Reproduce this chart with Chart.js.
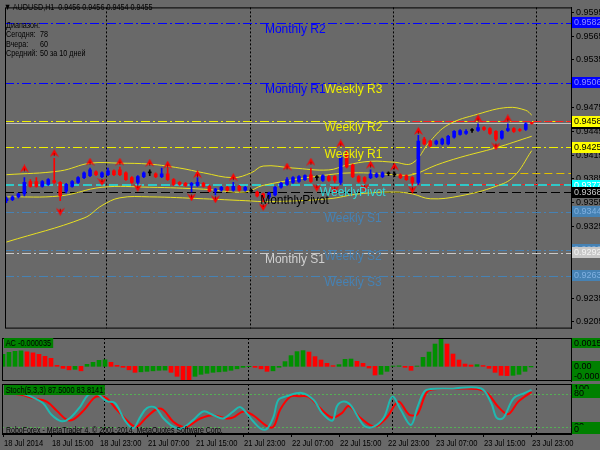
<!DOCTYPE html>
<html>
<head>
<meta charset="utf-8">
<script src="https://cdn.jsdelivr.net/npm/chart.js@4.4.0/dist/chart.umd.min.js"></script>
<style>
  body { margin: 0; width: 600px; height: 450px; overflow: hidden; position: relative; background: #696969;
         font-family: 'Liberation Sans', Arial, sans-serif; }
  canvas { position: absolute; left: 0; }
  .txt { position: absolute; color: #000; white-space: pre; line-height: 1; font-size: 9px;
         transform: scaleX(0.8); transform-origin: 0 0; }
  .tag { position: absolute; background: #008000; color: #000; white-space: pre; line-height: 10px; height: 10px;
         padding: 0 2px; font-size: 9px; transform: scaleX(0.82); transform-origin: 0 0; }
</style>
</head>
<body>
<canvas id="priceChart" width="600" height="336" style="top:0"></canvas>
<canvas id="acChart" width="600" height="46" style="top:336px"></canvas>
<canvas id="stochChart" width="600" height="68" style="top:382px"></canvas>

<div class="txt" style="left:4px;top:3px">▼ AUDUSD,H1  0.9456 0.9456 0.9454 0.9455</div>
<div class="txt" style="left:6px;top:21px">Диапазон:</div>
<div class="txt" style="left:6px;top:30px">Сегодня:</div><div class="txt" style="left:40px;top:30px">78</div>
<div class="txt" style="left:6px;top:40px">Вчера:</div><div class="txt" style="left:40px;top:40px">60</div>
<div class="txt" style="left:6px;top:49px">Средний:</div><div class="txt" style="left:40px;top:49px">50 за 10 дней</div>
<div class="tag" style="left:4px;top:338px">AC -0.000035</div>
<div class="tag" style="left:4px;top:385px">Stoch(5,3,3) 87.5000 83.8141</div>
<div class="txt" style="left:6px;top:426px;font-size:8.5px;transform:scaleX(0.82)">RoboForex - MetaTrader 4, © 2001-2014, MetaQuotes Software Corp.</div>

<script>
/* ===== data ===== */
// H1 bars, 18 Jul 07:00 .. 23 Jul 23:00 (index = bar number)
const opens  = [0.93577,0.93589,0.93625,0.93662,0.93819,0.93819,0.93758,0.93783,0.93831,0.93807,
                0.93698,0.93758,0.93807,0.93867,0.93892,0.93940,0.93880,0.93904,0.93952,0.93964,
                0.93928,0.93867,0.93807,0.93880,0.93928,0.93916,0.93880,0.93916,0.93843,0.93807,
                0.93795,0.93770,0.93770,0.93795,0.93758,0.93698,0.93710,0.93746,0.93710,0.93758,
                0.93710,0.93698,0.93686,0.93662,0.93625,0.93650,0.93746,0.93783,0.93807,0.93819,
                0.93843,0.93904,0.93867,0.93831,0.93880,0.93880,0.93807,0.94170,0.94025,0.93880,
                0.93867,0.93867,0.93880,0.93880,0.93916,0.93904,0.93904,0.93892,0.93867,0.93807,
                0.94352,0.94328,0.94292,0.94292,0.94292,0.94376,0.94412,0.94424,0.94461,0.94461,
                0.94497,0.94485,0.94449,0.94364,0.94461,0.94485,0.94473,0.94473,0.9456];
const highs  = [0.93625,0.93637,0.93674,0.93867,0.93843,0.93867,0.93831,0.93855,0.94110,0.93819,
                0.93795,0.93831,0.93880,0.93940,0.93988,0.93952,0.93940,0.93988,0.93964,0.94001,
                0.93940,0.93880,0.93892,0.93940,0.93964,0.93928,0.93988,0.93988,0.93855,0.93819,
                0.93807,0.93807,0.93867,0.93807,0.93770,0.93734,0.93758,0.93758,0.93807,0.93770,
                0.93758,0.93722,0.93698,0.93674,0.93686,0.93758,0.93807,0.93867,0.93880,0.93892,
                0.93904,0.93988,0.93892,0.93904,0.93892,0.93892,0.94183,0.94207,0.94037,0.93892,
                0.93880,0.93964,0.93928,0.93940,0.93940,0.93940,0.93916,0.93904,0.93880,0.94401,
                0.94376,0.94340,0.94340,0.94364,0.94401,0.94461,0.94473,0.94473,0.94485,0.94546,
                0.94509,0.94497,0.94461,0.94461,0.94546,0.94497,0.94485,0.94558,0.9456];
const lows   = [0.93553,0.93577,0.93613,0.93637,0.93746,0.93746,0.93746,0.93770,0.93795,0.93577,
                0.93674,0.93746,0.93795,0.93855,0.93880,0.93892,0.93867,0.93892,0.93892,0.93892,
                0.93831,0.93795,0.93783,0.93867,0.93892,0.93867,0.93867,0.93831,0.93770,0.93770,
                0.93758,0.93686,0.93758,0.93746,0.93686,0.93650,0.93698,0.93698,0.93698,0.93698,
                0.93698,0.93674,0.93625,0.93565,0.93601,0.93637,0.93734,0.93770,0.93795,0.93807,
                0.93831,0.93807,0.93831,0.93819,0.93819,0.93807,0.93783,0.93988,0.93867,0.93807,
                0.93795,0.93855,0.93867,0.93867,0.93892,0.93880,0.93855,0.93831,0.93770,0.93783,
                0.94279,0.94255,0.94279,0.94279,0.94279,0.94364,0.94401,0.94412,0.94437,0.94449,
                0.94461,0.94412,0.94328,0.94352,0.94449,0.94437,0.94449,0.94461,0.9454];
const closes = [0.93601,0.93625,0.93662,0.93807,0.93758,0.93758,0.93819,0.93843,0.93807,0.93637,
                0.93783,0.93819,0.93867,0.93928,0.93964,0.93904,0.93928,0.93952,0.93904,0.93904,
                0.93843,0.93807,0.93880,0.93928,0.93928,0.93880,0.93916,0.93843,0.93783,0.93783,
                0.93770,0.93795,0.93807,0.93758,0.93698,0.93722,0.93746,0.93710,0.93758,0.93710,
                0.93746,0.93698,0.93637,0.93613,0.93674,0.93746,0.93795,0.93843,0.93867,0.93880,
                0.93892,0.93819,0.93867,0.93892,0.93831,0.93831,0.94122,0.94001,0.93880,0.93819,
                0.93819,0.93916,0.93916,0.93928,0.93916,0.93904,0.93867,0.93843,0.93807,0.94328,
                0.94292,0.94267,0.94328,0.94352,0.94388,0.94449,0.94461,0.94449,0.94461,0.94497,
                0.94473,0.94424,0.94352,0.94449,0.94485,0.94449,0.94461,0.94546,0.9455];

// bollinger-style envelope, points (bar, price)
const upperBandBars = [0, 9, 14, 19, 24, 29, 33, 38, 41, 43, 48, 54, 57, 61, 65, 68, 71, 74, 79, 84, 87, 88];
const upperBandVals = [0.93904,0.93952,0.94049,0.94049,0.94037,0.93988,0.93928,0.93867,0.93928,0.94013,0.93988,
                       0.93964,0.94025,0.94073,0.94061,0.94049,0.94328,0.94533,0.94667,0.94751,0.94715,0.94655];
const midBandBars = [0, 9, 16, 24, 33, 40, 43, 54, 59, 65, 68, 72, 76, 82, 88];
const midBandVals = [0.93625,0.93637,0.93746,0.93746,0.93722,0.93686,0.93770,0.93904,0.93928,0.93904,0.93904,
                     0.94025,0.94122,0.94243,0.94388];
const lowerBandBars = [0, 13, 16, 19, 24, 33, 40, 44, 54, 59, 65, 68, 71, 76, 82, 85, 88];
const lowerBandVals = [0.93056,0.93359,0.93516,0.93613,0.93625,0.93601,0.93577,0.93565,0.93601,0.93662,0.93686,
                       0.93662,0.93601,0.93637,0.93758,0.93880,0.94207];

// fractals
const fractalUpBars = [3, 8, 14, 19, 24, 27, 32, 38, 47, 51, 56, 61, 65, 69, 79, 84];
const fractalUpVals = [0.93976,0.94170,0.94061,0.94061,0.94049,0.94025,0.93904,0.93867,0.94001,0.94061,0.94291,
                       0.94025,0.94001,0.94449,0.94606,0.94606];
const fractalDownBars = [9, 16, 22, 31, 35, 43, 52, 55, 60, 68, 82];
const fractalDownVals = [0.93444,0.93819,0.93746,0.93625,0.93601,0.93504,0.93746,0.93722,0.93746,0.93722,0.94267];

// pivot levels and day lines
const levelKinds  = ['monthlyR','monthlyR','weeklyR','weeklyR','todayHL','dayMid','todayHL','weeklyPivot','monthlyPivot','weeklyS','weeklyS','monthlyS','weeklyS','bid'];
const levelValues = [0.9582, 0.9506, 0.9458, 0.9425, 0.9458, 0.9392, 0.9379, 0.9377, 0.9368, 0.9344, 0.9296, 0.9292, 0.9263, 0.9455];
const levelFromBar = [null, null, null, null, 68, 68, 68, null, null, null, null, null, null, null];

const pivotLabels     = ['Monthly R2','Monthly R1','Weekly R3','Weekly R2','Weekly R1','WeeklyPivot','MonthlyPivot','Weekly S1','Monthly S1','Weekly S2','Weekly S3'];
const pivotLabelKinds = ['monthlyR','monthlyR','weeklyR','weeklyR','weeklyR','weeklyPivot','monthlyPivot','weeklyS','monthlyS','weeklyS','weeklyS'];
const pivotLabelVals  = [0.9582, 0.9506, 0.9506, 0.9458, 0.9425, 0.9377, 0.9367, 0.9344, 0.9292, 0.9296, 0.9263];
const pivotLabelBars  = [43.3, 43.3, 53.3, 53.3, 53.3, 52.5, 42.5, 53.3, 43.3, 53.3, 53.3];

// price axis
const priceTicks = [0.9595, 0.9565, 0.9535, 0.9505, 0.9475, 0.9445, 0.9415, 0.9385, 0.9355, 0.9325, 0.9295, 0.9265, 0.9235, 0.9205];
const axisTagKinds = ['monthlyR','monthlyR','bid','weeklyR','weeklyR','weeklyPivot','monthlyPivot','weeklyS','weeklyS','monthlyS','weeklyS'];
const axisTagVals  = [0.9582, 0.9506, 0.9455, 0.9458, 0.9425, 0.9377, 0.9368, 0.9344, 0.9296, 0.9292, 0.9263];

// time axis
const xTickBars   = [0, 8, 16, 24, 32, 40, 48, 56, 64, 72, 80, 88];
const xTickLabels = ['18 Jul 2014','18 Jul 15:00','18 Jul 23:00','21 Jul 07:00','21 Jul 15:00','21 Jul 23:00',
                     '22 Jul 07:00','22 Jul 15:00','22 Jul 23:00','23 Jul 07:00','23 Jul 15:00','23 Jul 23:00'];
const daySeparators = [17, 41, 65, 89];

// Accelerator oscillator
const acValues = [0.000646,0.000753,0.000807,0.000834,0.000780,0.000726,0.000646,0.000538,0.000430,0.000054,
                  -0.000108,-0.000188,-0.000161,-0.000242,0.000108,0.000215,0.000323,0.000350,0.000215,0.000054,
                  -0.000054,-0.000188,-0.000323,-0.000296,-0.000269,-0.000242,-0.000215,-0.000204,-0.000323,-0.000538,
                  -0.000753,-0.000780,-0.000538,-0.000430,-0.000377,-0.000323,-0.000296,-0.000269,-0.000215,-0.000135,
                  -0.000054,-0.000016,-0.000054,-0.000135,-0.000269,-0.000242,-0.000054,0.000253,0.000576,0.000791,
                  0.000845,0.000769,0.000522,0.000339,0.000161,0.000038,0.000091,0.000377,0.000393,0.000269,
                  0.000161,-0.000091,-0.000468,-0.000430,-0.000269,0.000016,0.000027,-0.000054,-0.000215,0.000016,
                  0.000484,0.000769,0.001200,0.001525,0.001200,0.000662,0.000339,0.000124,0.000070,0.000091,
                  0.000043,-0.000108,-0.000323,-0.000484,-0.000500,-0.000484,-0.000430,-0.000269,-0.000035];
const acTagVals  = [0.001525, 0, -0.00079];
const acTagTexts = ['0.001525', '0.00', '-0.00079'];

// Stochastic (5,3,3), points
const stochMainBars = [0, 2.8, 4.4, 6.6, 8.0, 9.7, 11.1, 12.8, 14.1, 15.5, 17.2, 18.6, 20.2, 21.6, 22.8, 23.9, 25.3, 26.6,
                       28.3, 29.7, 31.6, 33.3, 35, 36.6, 38.3, 39.4, 40.5, 41.6, 42.8, 43.9, 45, 45.8, 47.2, 49.7, 51.7,
                       53.1, 54.8, 55.6, 56.7, 57.8, 59.4, 60.3, 61.7, 63.4, 64.8, 66.2, 67.9, 69, 70.1, 71.2, 74.6,
                       79.6, 81.3, 82.2, 83.3, 85, 86.9, 88];
const stochMainVals = [81, 81, 76, 63, 42, 30, 36, 57, 78, 81, 67, 63, 32, 17, 38, 54, 55, 36,
                       20, 17, 32, 48, 41, 35, 48, 56, 45, 30, 17, 16, 38, 69, 76, 82, 69,
                       45, 31, 58, 66, 60, 32, 20, 20, 37, 75, 51, 23, 56, 84, 89, 90,
                       90, 63, 36, 36, 72, 82, 87.5];
const stochSignalBars = [0, 2.8, 5, 7.2, 8.9, 10.5, 11.6, 13.3, 15, 15.8, 17.2, 18.9, 21.1, 22.2, 23.9, 25.5, 26.6, 28.3,
                         30, 31.1, 32.8, 35, 37.2, 38.3, 40, 41.6, 43.9, 45, 46.1, 47.8, 49.4, 50.8, 52.5, 54.7, 56.4,
                         57.5, 59.4, 61.1, 62.2, 63.9, 65.8, 67.2, 67.8, 69, 70.6, 72.3, 75.6, 79, 80.7, 82.4, 84.1,
                         85.8, 88];
const stochSignalVals = [81, 79, 72, 66, 49, 33, 33, 49, 72, 76, 72, 51, 26, 20, 38, 52, 51, 29,
                         19, 23, 35, 41, 35, 37, 48, 41, 21, 20, 51, 75, 76, 75, 57, 37, 45,
                         58, 37, 23, 21, 37, 66, 47, 41, 43, 84, 89, 90, 89, 81, 57, 43,
                         66, 83.8];
const stochLevels = [80, 20];
const stochTagVals = [100, 80, 20, 0];

/* ===== styles ===== */
const X_MIN = -0.25, X_MAX = 94.58;
const FONT = "'Liberation Sans', Arial, sans-serif";
const levelStyle = {
  monthlyR:     { color: '#0000ff', dash: [9, 3, 2, 3], width: 1 },
  weeklyR:      { color: '#f0f000', dash: [9, 3, 2, 3], width: 1 },
  todayHL:      { color: '#ff2020', dash: [8, 3], width: 1 },
  dayMid:       { color: '#e0c000', dash: [8, 4], width: 1 },
  weeklyPivot:  { color: '#30c8c8', dash: [9, 4], width: 2 },
  monthlyPivot: { color: '#000000', dash: [9, 4], width: 1 },
  weeklyS:      { color: '#4682b4', dash: [9, 3, 2, 3], width: 1 },
  monthlyS:     { color: '#c8c8c8', dash: [9, 3, 2, 3], width: 1 },
  bid:          { color: '#c0c0c0', dash: [], width: 1 }
};
const labelColor = { monthlyR: '#0000ff', weeklyR: '#f0f000', weeklyPivot: '#30d8d8', monthlyPivot: '#000000',
                     weeklyS: '#4682b4', monthlyS: '#d0d0d0' };
const tagStyle = {
  monthlyR: { bg: '#0000ff', fg: '#8c8cff' }, weeklyR: { bg: '#ffff00', fg: '#000000' },
  bid: { bg: '#000000', fg: '#c0c0c0' }, weeklyPivot: { bg: '#00ffff', fg: '#ffffff' },
  monthlyPivot: { bg: '#000000', fg: '#c8c8c8' }, weeklyS: { bg: '#4682b4', fg: '#80b0e0' },
  monthlyS: { bg: '#c8c8c8', fg: '#f4f4f4' }, green: { bg: '#008000', fg: '#000000' }
};

/* ===== helpers ===== */
function pts(xs, ys) { return xs.map((x, k) => ({ x: x, y: ys[k] })); }

function arrowImg(up) {
  const c = document.createElement('canvas');
  c.width = 9; c.height = 9;
  const g = c.getContext('2d');
  g.fillStyle = '#ff0000';
  g.beginPath();
  if (up) { g.moveTo(4.5, 0); g.lineTo(9, 8); g.lineTo(4.5, 5); g.lineTo(0, 8); }
  else    { g.moveTo(4.5, 9); g.lineTo(9, 1); g.lineTo(4.5, 4); g.lineTo(0, 1); }
  g.closePath(); g.fill();
  g.fillStyle = '#a00000';
  g.fillRect(4, up ? 4 : 2, 1, 3);
  return c;
}

function drawSeparators(chart) {
  const { ctx, chartArea: a, scales: { x } } = chart;
  ctx.save();
  ctx.strokeStyle = '#000'; ctx.lineWidth = 1; ctx.setLineDash([2, 2]);
  daySeparators.forEach(b => {
    const px = Math.floor(x.getPixelForValue(b)) - 1 + 0.5;
    if (px > a.right) return;
    ctx.beginPath(); ctx.moveTo(px, a.top); ctx.lineTo(px, a.bottom); ctx.stroke();
  });
  ctx.restore();
}

function drawTag(ctx, a, py, text, st, h) {
  let top = Math.round(py - h / 2);
  if (top < a.top) top = a.top;
  if (top + h > a.bottom) top = a.bottom - h;
  ctx.fillStyle = st.bg;
  ctx.fillRect(a.right + 1, top, 29, h);
  ctx.fillStyle = st.fg;
  ctx.font = '9px ' + FONT;
  ctx.textBaseline = 'middle'; ctx.textAlign = 'left';
  ctx.fillText(text, a.right + 3, top + h / 2 + 0.5);
}

function drawFrame(chart) {
  const { ctx, chartArea: a } = chart;
  ctx.save();
  ctx.strokeStyle = '#000'; ctx.lineWidth = 1;
  ctx.strokeRect(a.left + 0.5, a.top + 0.5, a.right - a.left, a.bottom - a.top - 1);
  ctx.restore();
}

const yAxisBase = {
  position: 'right',
  afterFit: s => { s.width = 29; },
  grid: { drawOnChartArea: false, drawTicks: true, tickLength: 3, color: '#000' },
  border: { color: '#000' }
};

/* ===== price panel ===== */
const pricePlugin = {
  id: 'pricePlugin',
  beforeDatasetsDraw(chart) {
    const { ctx, chartArea: a, scales: { x, y } } = chart;
    drawSeparators(chart);
    ctx.save();
    ctx.beginPath(); ctx.rect(a.left, a.top, a.right - a.left, a.bottom - a.top); ctx.clip();
    levelKinds.forEach((kind, k) => {
      const st = levelStyle[kind];
      const py = Math.round(y.getPixelForValue(levelValues[k])) + (st.width === 2 ? 0 : 0.5);
      const x0 = levelFromBar[k] === null ? a.left : x.getPixelForValue(levelFromBar[k]);
      ctx.strokeStyle = st.color; ctx.lineWidth = st.width; ctx.setLineDash(st.dash);
      ctx.beginPath(); ctx.moveTo(x0, py); ctx.lineTo(a.right, py); ctx.stroke();
    });
    ctx.restore();
  },
  afterDatasetsDraw(chart) {
    const { ctx, scales: { x, y } } = chart;
    ctx.save();
    ctx.font = '12px ' + FONT;
    ctx.textBaseline = 'top'; ctx.textAlign = 'left';
    pivotLabels.forEach((t, k) => {
      ctx.fillStyle = labelColor[pivotLabelKinds[k]];
      ctx.fillText(t, x.getPixelForValue(pivotLabelBars[k]), y.getPixelForValue(pivotLabelVals[k]) + 1);
    });
    ctx.restore();
  },
  afterDraw(chart) {
    const { ctx, chartArea: a, scales: { y } } = chart;
    drawFrame(chart);
    ctx.save();
    axisTagKinds.forEach((kind, k) => {
      drawTag(ctx, a, y.getPixelForValue(axisTagVals[k]), axisTagVals[k].toFixed(4), tagStyle[kind], 11);
    });
    ctx.restore();
  }
};

const candleColors = opens.map((o, i) => closes[i] > o ? '#0000ff' : (closes[i] < o ? '#ff0000' : '#000000'));
const bars = opens.map((o, i) => i);

new Chart(document.getElementById('priceChart'), {
  type: 'bar',
  data: {
    datasets: [
      { type: 'line', data: pts(upperBandBars, upperBandVals), borderColor: '#e8e020', borderWidth: 1, pointRadius: 0, tension: 0.4, order: 5 },
      { type: 'line', data: pts(midBandBars, midBandVals), borderColor: '#e8e020', borderWidth: 1, pointRadius: 0, tension: 0.4, order: 5 },
      { type: 'line', data: pts(lowerBandBars, lowerBandVals), borderColor: '#e8e020', borderWidth: 1, pointRadius: 0, tension: 0.4, order: 5 },
      { data: bars.map(i => ({ x: i, y: [lows[i], highs[i]] })), backgroundColor: candleColors, barThickness: 1, grouped: false, order: 3 },
      { data: bars.map(i => ({ x: i, y: [opens[i], closes[i]] })), backgroundColor: candleColors, barThickness: 3, minBarLength: 1, grouped: false, order: 2 },
      { type: 'line', data: pts(fractalUpBars, fractalUpVals), showLine: false, pointStyle: arrowImg(true), order: 1 },
      { type: 'line', data: pts(fractalDownBars, fractalDownVals), showLine: false, pointStyle: arrowImg(false), order: 1 }
    ]
  },
  options: {
    responsive: false, animation: false,
    layout: { padding: { left: 2, top: 1, right: 0, bottom: 1 } },
    plugins: { legend: { display: false }, tooltip: { enabled: false } },
    scales: {
      x: { type: 'linear', min: X_MIN, max: X_MAX, offset: false, display: false },
      y: Object.assign({}, yAxisBase, {
        type: 'linear', min: 0.91966, max: 0.96011,
        afterBuildTicks: s => { s.ticks = priceTicks.map(v => ({ value: v })); },
        ticks: { color: '#000', padding: 2, font: { family: FONT, size: 9 }, callback: v => Number(v).toFixed(4) }
      })
    }
  },
  plugins: [pricePlugin]
});

/* ===== AC panel ===== */
const acColors = acValues.map((v, i) => (i === 0 || v > acValues[i - 1]) ? '#009000' : '#ff0000');
new Chart(document.getElementById('acChart'), {
  type: 'bar',
  data: { datasets: [{ data: acValues.map((v, i) => ({ x: i, y: v })), backgroundColor: acColors, barThickness: 4 }] },
  options: {
    responsive: false, animation: false,
    layout: { padding: { left: 2, top: 2, right: 0, bottom: 1 } },
    plugins: { legend: { display: false }, tooltip: { enabled: false } },
    scales: {
      x: { type: 'linear', min: X_MIN + 0.083, max: X_MAX + 0.083, offset: false, display: false },
      y: Object.assign({}, yAxisBase, { min: -0.00079, max: 0.001525, ticks: { display: false }, grid: { display: false } })
    }
  },
  plugins: [{
    id: 'acPlugin',
    beforeDatasetsDraw: drawSeparators,
    afterDraw(chart) {
      const { ctx, chartArea: a, scales: { y } } = chart;
      drawFrame(chart);
      acTagVals.forEach((v, k) => drawTag(ctx, a, y.getPixelForValue(v), acTagTexts[k], tagStyle.green, 10));
    }
  }]
});

/* ===== Stochastic panel ===== */
new Chart(document.getElementById('stochChart'), {
  type: 'line',
  data: {
    datasets: [
      { data: pts(stochMainBars, stochMainVals), borderColor: '#20b8b0', borderWidth: 2, pointRadius: 0, tension: 0.35 },
      { data: pts(stochSignalBars, stochSignalVals), borderColor: '#ff0000', borderWidth: 2, pointRadius: 0, tension: 0.35 }
    ]
  },
  options: {
    responsive: false, animation: false,
    layout: { padding: { left: 2, top: 2, right: 0, bottom: 0 } },
    plugins: { legend: { display: false }, tooltip: { enabled: false } },
    scales: {
      x: {
        type: 'linear', min: X_MIN, max: X_MAX, offset: false,
        afterFit: s => { s.height = 16; },
        afterBuildTicks: s => { s.ticks = xTickBars.map(v => ({ value: v })); },
        ticks: { display: false },
        grid: { drawOnChartArea: false, drawTicks: true, tickLength: 3, color: '#000' },
        border: { color: '#000' }
      },
      y: Object.assign({}, yAxisBase, { min: 6.6, max: 98.3, ticks: { display: false }, grid: { display: false } })
    }
  },
  plugins: [{
    id: 'stochPlugin',
    beforeDatasetsDraw(chart) {
      const { ctx, chartArea: a, scales: { y } } = chart;
      drawSeparators(chart);
      ctx.save();
      ctx.strokeStyle = '#55b055'; ctx.lineWidth = 1; ctx.setLineDash([2, 2]);
      stochLevels.forEach(v => {
        const py = Math.round(y.getPixelForValue(v)) + 0.5;
        ctx.beginPath(); ctx.moveTo(a.left, py); ctx.lineTo(a.right, py); ctx.stroke();
      });
      ctx.restore();
    },
    afterDraw(chart) {
      const { ctx, chartArea: a, scales: { x, y } } = chart;
      drawFrame(chart);
      stochTagVals.forEach(v => drawTag(ctx, a, y.getPixelForValue(v), String(v), tagStyle.green, 9));
      // time labels, condensed like the terminal font
      ctx.save();
      ctx.fillStyle = '#000'; ctx.font = '9.5px ' + FONT;
      ctx.textBaseline = 'middle'; ctx.textAlign = 'left';
      xTickBars.forEach((b, k) => {
        ctx.save();
        ctx.translate(Math.round(x.getPixelForValue(b)), a.bottom + 9);
        ctx.scale(0.8, 1);
        ctx.fillText(xTickLabels[k], 0, 0);
        ctx.restore();
      });
      ctx.restore();
    }
  }]
});
</script>
</body>
</html>
